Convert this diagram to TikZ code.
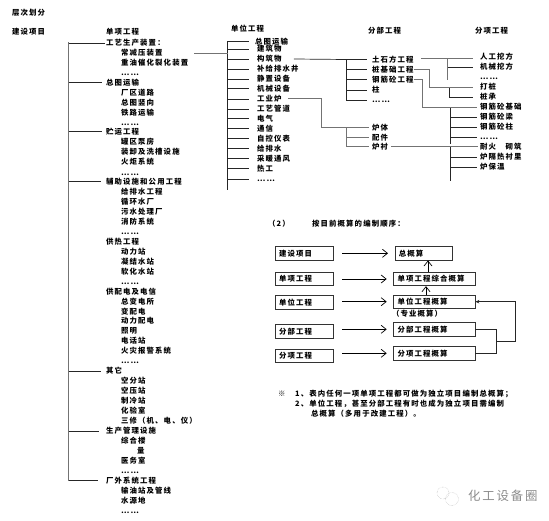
\documentclass[tikz,border=0pt]{standalone}
\usepackage{fontspec}
\usepackage{tikz}
\usetikzlibrary{positioning, arrows.meta, calc}
\newfontfamily\cjk[LetterSpace=15]{Noto Sans CJK SC}
\tikzset{
    item/.style={
        anchor=west,
        inner sep=0pt,
        text height=6.4pt,
        text depth=.9pt,
        font=\fontsize{7.4}{9}\cjk\bfseries
    },
    bar/.style={
        line width=.7pt,
        black!85
    },
    greybar/.style={
        line width=1pt,
        black!55
    },
    stagebox/.style={
        draw=black!80,
        line width=.9pt,
        inner xsep=4pt,
        inner ysep=0pt,
        minimum height=13.4pt,
        align=left,
        font=\fontsize{7.4}{9}\cjk\bfseries
    },
    flow/.style={
        line width=.7pt,
        -{Straight Barb[length=5pt,width=8pt]}
    }
}

\begin{document}
\begin{tikzpicture}[x=1pt,y=-1pt]

  \useasboundingbox (0,0) rectangle (549,521);

  \node[item] (title) at (12,13) {层次划分};
  \node[item] (project) at (12,32) {建设项目};
  \node[item] (headsingle) at (106,32) {单项工程};
  \node[item] (headunit) at (231,29) {单位工程};
  \node[item] (headpart) at (368,31) {分部工程};
  \node[item] (headitem) at (475,31) {分项工程};

  % single works column
  \foreach \i/\y/\t in {
      1/43/工艺生产装置：,
      2/82.5/总图运输,
      3/131.5/贮运工程,
      4/181.7/辅助设施和公用工程,
      5/241.5/供热工程,
      6/291.5/供配电及电信,
      7/371/其它,
      8/431/生产管理设施,
      9/480.7/厂外系统工程}
    {
      \node[item] (s\i) at (106,\y) {\t};
    }

  \foreach \y/\t in {
      52.5/常减压装置, 62.5/重油催化裂化装置, 72.5/……,
      92.5/厂区道路, 102.5/总图竖向, 112.3/铁路运输, 122.5/……,
      141.5/罐区泵房, 152/装卸及洗槽设施, 162/火炬系统, 172.5/……,
      191.7/给排水工程, 201.5/循环水厂, 211.5/污水处理厂, 222/消防系统, 232/……,
      251.5/动力站, 261.5/凝结水站, 271.5/软化水站, 281.5/……,
      301.5/总变电所, 311.5/变配电, 321/动力配电, 331/照明, 341/电话站,
      351/火灾报警系统, 361/……,
      381/空分站, 391/空压站, 401/制冷站, 411/化验室, 421/三修（机、电、仪）,
      441/综合楼, 461/医务室, 471/……,
      491/输油站及管线, 501/水源地, 511/……}
    {
      \node[item] at (121,\y) {\t};
    }
  \node[item] (canteen) at (137,451) {量};

  \coordinate (trunk) at (68.5,42.5);
  \coordinate (trunkend) at (68.5,480.7);
  \draw[greybar] (trunk) -- (trunkend);
  \foreach \i/\e in {1/1,2/4,3/4,4/5,7/5,8/7,9/8}
    {
      \draw[bar] (trunk |- s\i.west) -- ([xshift=-\e pt]s\i.west);
    }

  % unit works column
  \foreach \i/\y/\t in {
      1/49/建筑物,
      2/59/构筑物,
      3/69/补给排水井,
      4/79/静置设备,
      5/88.7/机械设备,
      6/99/工业炉,
      7/109/工艺管道,
      8/118.5/电气,
      9/128.5/通信,
      10/138.5/自控仪表,
      11/148.5/给排水,
      12/158.5/采暖通风,
      13/168.5/热工,
      14/179/……}
    {
      \node[item] (u\i) at (257,\y) {\t};
    }
  \node[item] (u0) at (255,41.5) {总图运输};

  \coordinate (unitbus) at (227.5,41.5);
  \coordinate (unitend) at (227.5,190);
  \coordinate (heavyend) at (194,54);
  \draw[bar] (unitbus) -- (unitend);
  \foreach \i in {0,...,14}
    {
      \draw[bar] (unitbus |- u\i.west) -- (249,0 |- u\i.west);
    }
  \draw[greybar] (heavyend) -- (unitbus |- heavyend);

  % part works column
  \foreach \i/\y/\t in {
      1/59.5/土石方工程,
      2/69.5/桩基础工程,
      3/79.7/钢筋砼工程,
      4/90/柱,
      5/100/……,
      6/128/炉体,
      7/138/配件,
      8/147/炉衬}
    {
      \node[item] (p\i) at (372,\y) {\t};
    }

  \coordinate (partbus) at (346,59.5);
  \coordinate (furnacebus) at (346,127.5);
  \draw[bar] (u2.east) ++(12,0) -- (partbus);
  \draw[bar] (partbus) -- (partbus |- p5.west);
  \foreach \i in {1,...,5}
    {
      \draw[bar] (partbus |- p\i.west) -- ([xshift=-5pt]p\i.west);
    }
  \draw[greybar] (u6.east) ++(6,0) -| (321.7,127.5) -- ([xshift=-3pt]p6.west |- furnacebus);
  \draw[greybar] (furnacebus) -- (furnacebus |- p8.west);
  \foreach \i in {7,8}
    {
      \draw[greybar] (furnacebus |- p\i.west) -- ([xshift=-3pt]p\i.west);
    }

  % sub-item works column
  \foreach \i/\y/\t in {
      1/57/人工挖方,
      2/67/机械挖方,
      3/77/……,
      4/87/打桩,
      5/97/桩承,
      6/107/钢筋砼基础,
      7/117/钢筋砼梁,
      8/127/钢筋砼柱,
      9/137/……,
      10/147/耐火　砌筑,
      11/157/炉隔热衬里,
      12/167/炉保温}
    {
      \node[item] (q\i) at (480,\y) {\t};
    }

  \coordinate (earthbus) at (447.7,59);
  \coordinate (pilebus) at (449.5,88);
  \coordinate (rcbus) at (450,108);
  \coordinate (liningbus) at (450,147);

  \draw[greybar] (p1.east) ++(7,-.5) -- (473,59);
  \draw[greybar] (earthbus) -- (447.7,80);
  \draw[bar] (earthbus |- q2.west) -- ([xshift=-7pt]q2.west);

  \draw[greybar] (p2.east) -- (429,0 |- p2.west) |- ([xshift=-7pt]q4.west |- pilebus);
  \draw[bar] (pilebus) -- (pilebus |- q5.west) -- ([xshift=-7pt]q5.west);

  \draw[greybar] (p3.east) -- (422,0 |- p3.west) |- ([xshift=-3pt]q6.west |- rcbus);
  \draw[bar] (rcbus) -- (450,144);
  \foreach \i in {7,8,9}
    {
      \draw[bar] (rcbus |- q\i.west) -- ([xshift=-3pt]q\i.west);
    }

  \draw[greybar] (p8.east) ++(3,0) -- ([xshift=-2pt]q10.west);
  \draw[bar] (liningbus) -- (450,181);
  \foreach \i in {11,12}
    {
      \draw[bar] (liningbus |- q\i.west) -- ([xshift=-3pt]q\i.west);
    }

  % estimate sequence
  \node[item] (seqno) at (268,224) {（2）};
  \node[item] (seqtitle) at (312,224) {按目前概算的编制顺序：};

  \foreach \i/\y/\t in {
      1/253.3/建设项目,
      2/279/单项工程,
      3/302.3/单位工程,
      4/331.3/分部工程,
      5/356/分项工程}
    {
      \node[stagebox,text width=50pt] (l\i) at (304,\y) {\t};
    }

  \node[stagebox,text width=49.7pt] (r1) at (423.8,253.3) {总概算};
  \foreach \i/\y/\t in {
      2/279/单项工程综合概算,
      3/301.7/单位工程概算,
      4/329.3/分部工程概算,
      5/353.3/分项工程概算}
    {
      \node[stagebox,text width=73.3pt] (r\i) at (434.3,\y) {\t};
    }
  \node[item] (majornote) at (392,313.7) {（专业概算）};

  \foreach \i in {1,...,5}
    {
      \draw[flow] ([xshift=8.7pt]l\i.east |- r\i.west) -- ([xshift=-6.5pt]r\i.west);
    }

  \draw[flow] (r2.north -| 428,0) -- (r1.south -| 428,0);
  \draw[flow] (r3.north -| 426,0) -- (r2.south -| 426,0);

  \coordinate (joint) at (496,341.7);
  \coordinate (riser) at (515,341.7);
  \draw[bar] (r4.east) -| (joint);
  \draw[bar] (r5.east) -| (joint);
  \draw[bar,-{Stealth[length=4pt,width=3.5pt]}] (joint) -- (riser) |- (r3.east);

  % notes
  \node[item] (mark) at (278,393.5) {※};
  \node[item] (note1) at (295,394) {1、表内任何一项单项工程都可做为独立项目编制总概算；};
  \node[item] (note2) at (295,404) {2、单位工程，甚至分部工程有时也成为独立项目需编制};
  \node[item] (note3) at (311,414) {总概算（多用于改建工程）。};

  % mark in the corner
  \node[circle,draw=black!35,densely dotted,minimum size=12pt,inner sep=0pt] (bubble1) at (443,493) {};
  \node[circle,draw=black!35,densely dotted,minimum size=13pt,inner sep=0pt] (bubble2) at (452,499) {};
  \node[inner sep=0pt,anchor=west,text=black!45,font=\fontsize{12.4}{14}\cjk] (brand) at (468,496) {化工设备圈};

\end{tikzpicture}
\end{document}
